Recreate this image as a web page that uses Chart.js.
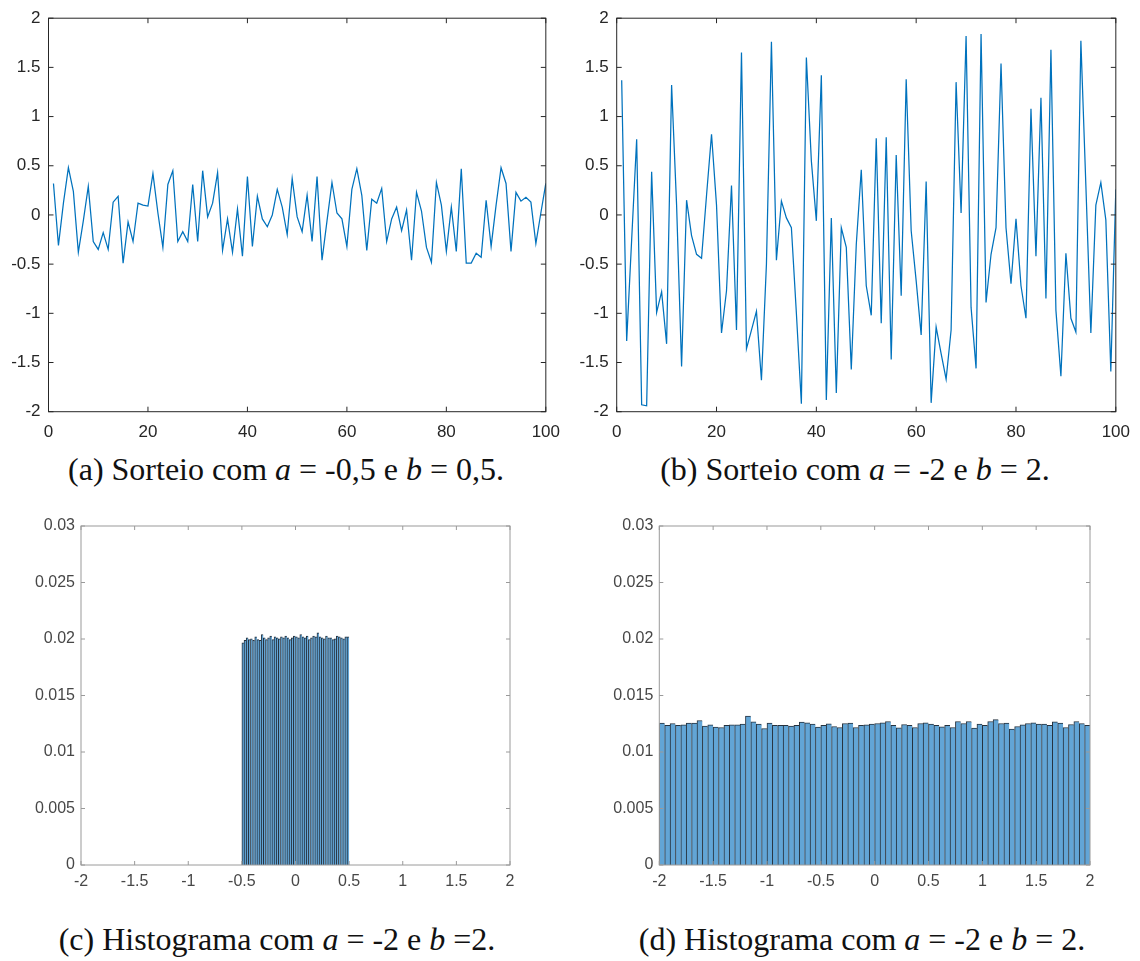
<!DOCTYPE html>
<html>
<head>
<meta charset="utf-8">
<script src="https://cdn.jsdelivr.net/npm/chart.js@4.4.1/dist/chart.umd.min.js"></script>
<style>
  html, body { margin:0; padding:0; background:#fff; }
  body { width:1140px; height:961px; position:relative; overflow:hidden; }
  .box { position:absolute; }
  .cap { position:absolute; white-space:nowrap; font-family:"Liberation Serif","Times New Roman",serif; color:#111; line-height:1; }
  .cap i { font-style:italic; }
</style>
</head>
<body>
<div class="box" style="left:0;top:0;width:570px;height:450px"><canvas id="cA" width="570" height="450"></canvas></div>
<div class="box" style="left:570px;top:0;width:570px;height:450px"><canvas id="cB" width="570" height="450"></canvas></div>
<div class="box" style="left:0;top:490px;width:570px;height:420px"><canvas id="cC" width="570" height="420"></canvas></div>
<div class="box" style="left:570px;top:490px;width:570px;height:420px"><canvas id="cD" width="570" height="420"></canvas></div>

<div class="cap" id="capA">(a) Sorteio com <i>a</i> = -0,5 e <i>b</i> = 0,5.</div>
<div class="cap" id="capB">(b) Sorteio com <i>a</i> = -2 e <i>b</i> = 2.</div>
<div class="cap" id="capC">(c) Histograma com <i>a</i> = -2 e <i>b</i> =2.</div>
<div class="cap" id="capD">(d) Histograma com <i>a</i> = -2 e <i>b</i> = 2.</div>

<script>
// ---------------- DATA ----------------
const seriesA = [0.32,-0.31,0.12,0.48,0.24,-0.38,-0.06,0.29,-0.27,-0.35,
  -0.18,-0.35,0.13,0.19,-0.49,-0.07,-0.27,0.12,0.10,0.09,
  0.42,0.02,-0.33,0.31,0.45,-0.27,-0.17,-0.27,0.31,-0.27,
  0.45,-0.02,0.12,0.43,-0.36,-0.04,-0.38,0.06,-0.42,0.39,
  -0.32,0.19,-0.04,-0.12,0.00,0.26,0.08,-0.20,0.37,-0.02,
  -0.17,0.20,-0.27,0.39,-0.46,-0.06,0.33,0.02,-0.04,-0.32,
  0.26,0.47,0.20,-0.36,0.16,0.12,0.27,-0.27,-0.04,0.08,
  -0.16,0.05,-0.46,0.23,0.04,-0.33,-0.48,0.33,0.10,-0.37,
  0.08,-0.37,0.47,-0.49,-0.49,-0.39,-0.43,0.15,-0.32,0.10,
  0.48,0.32,-0.37,0.23,0.14,0.18,0.13,-0.29,0.02,0.32];

const seriesB = [1.37,-1.28,-0.25,0.77,-1.93,-1.94,0.44,-0.99,-0.78,-1.31,
  1.32,0.10,-1.54,0.15,-0.21,-0.40,-0.44,0.20,0.82,0.10,
  -1.20,-0.77,0.30,-1.17,1.65,-1.36,-1.17,-0.98,-1.68,-0.50,
  1.76,-0.46,0.14,-0.03,-0.13,-1.00,-1.92,1.60,0.55,-0.06,
  1.42,-1.88,-0.03,-1.81,-0.13,-0.33,-1.57,-0.30,0.46,-0.72,
  -1.02,0.78,-1.10,0.79,-1.47,0.61,-0.82,1.38,-0.16,-0.67,
  -1.22,0.34,-1.91,-1.14,-1.41,-1.67,-1.17,1.35,0.02,1.82,
  -0.94,-1.56,1.84,-0.89,-0.40,-0.13,1.54,-0.13,-0.70,-0.04,
  -0.72,-1.05,1.08,-0.42,1.19,-0.85,1.68,-0.97,-1.64,-0.39,
  -1.05,-1.19,1.77,0.30,-1.20,0.10,0.33,-0.05,-1.59,0.26];

// histogram (c): 50 bins on [-0.5, 0.5]
const histC_range = [-0.5, 0.5];
const histC = [0.01966,0.01989,0.02010,0.01995,0.02001,0.01989,0.02019,0.01995,0.01989,0.02040,
  0.02010,0.01995,0.02010,0.02025,0.01995,0.02019,0.02010,0.02001,0.02019,0.02010,
  0.02025,0.02010,0.01995,0.02010,0.02025,0.02019,0.02010,0.02040,0.02019,0.02010,
  0.02025,0.01995,0.02010,0.02025,0.02019,0.02054,0.02019,0.02010,0.02001,0.02025,
  0.02010,0.02010,0.01995,0.02001,0.02025,0.02019,0.02010,0.02001,0.02019,0.02019];

// histogram (d): 80 bins on [-2, 2]
const histD_range = [-2, 2];
const histD = [0.01255,0.01235,0.01252,0.01235,0.01240,0.01255,0.01255,0.01279,0.01229,0.01240,
  0.01220,0.01217,0.01235,0.01240,0.01240,0.01246,0.01317,0.01267,0.01246,0.01208,
  0.01255,0.01237,0.01237,0.01237,0.01229,0.01237,0.01264,0.01258,0.01246,0.01220,
  0.01237,0.01249,0.01226,0.01217,0.01252,0.01255,0.01217,0.01237,0.01240,0.01246,
  0.01252,0.01258,0.01270,0.01237,0.01214,0.01243,0.01235,0.01217,0.01252,0.01258,
  0.01246,0.01237,0.01223,0.01235,0.01217,0.01270,0.01252,0.01270,0.01211,0.01246,
  0.01237,0.01270,0.01287,0.01252,0.01255,0.01202,0.01226,0.01240,0.01252,0.01258,
  0.01246,0.01246,0.01237,0.01267,0.01255,0.01217,0.01243,0.01270,0.01252,0.01235];

// tick definitions
const lineXTicks = [0, 20, 40, 60, 80, 100];
const lineYTicks = [-2, -1.5, -1, -0.5, 0, 0.5, 1, 1.5, 2];
const histXTicks = [-2, -1.5, -1, -0.5, 0, 0.5, 1, 1.5, 2];
const histYTicks = [0, 0.005, 0.01, 0.015, 0.02, 0.025, 0.03];

// ---------------- HELPERS ----------------
const fmt = v => String(+(+v).toFixed(4));

const framePlugin = {
  id: 'frame',
  afterDatasetsDraw(chart, args, o) {
    const { ctx, chartArea: a, scales: { x, y } } = chart;
    ctx.save();
    ctx.strokeStyle = o.color;
    ctx.lineWidth = o.width;
    ctx.beginPath();
    x.ticks.forEach(t => {
      const p = x.getPixelForValue(t.value);
      ctx.moveTo(p, a.bottom); ctx.lineTo(p, a.bottom - o.len);
      ctx.moveTo(p, a.top); ctx.lineTo(p, a.top + o.len);
    });
    y.ticks.forEach(t => {
      const p = y.getPixelForValue(t.value);
      ctx.moveTo(a.left, p); ctx.lineTo(a.left + o.len, p);
      ctx.moveTo(a.right, p); ctx.lineTo(a.right - o.len, p);
    });
    ctx.stroke();
    ctx.strokeRect(a.left, a.top, a.right - a.left, a.bottom - a.top);
    ctx.restore();
  }
};

function axisX(ticksArr, min, max, font, color, pad, h) {
  return {
    type: 'linear', min, max, offset: false,
    grid: { display: false, drawTicks: false, offset: false },
    border: { display: false },
    afterBuildTicks: s => { s.ticks = ticksArr.map(v => ({ value: v })); },
    afterFit: s => { s.height = h; },
    ticks: { autoSkip: false, maxRotation: 0, padding: pad, color, font, callback: v => fmt(v).replace('-', '-') }
  };
}
function axisY(ticksArr, min, max, font, color, pad, w) {
  return {
    type: 'linear', min, max,
    grid: { display: false, drawTicks: false },
    border: { display: false },
    afterBuildTicks: s => { s.ticks = ticksArr.map(v => ({ value: v })); },
    afterFit: s => { s.width = w; },
    ticks: { autoSkip: false, padding: pad, color, font, callback: v => fmt(v) }
  };
}

const topFont = { family: '"Liberation Sans", Arial, Helvetica, sans-serif', size: 17 };
const botFont = { family: '"Liberation Sans", Arial, Helvetica, sans-serif', size: 16 };
const topColor = '#262626';
const botColor = '#474747';

function lineChart(id, values, yW, padR) {
  const pts = values.map((v, i) => ({ x: i + 1, y: v }));
  return new Chart(document.getElementById(id), {
    type: 'line',
    data: { datasets: [{ data: pts, borderColor: '#0072BD', borderWidth: 1.25, pointRadius: 0, tension: 0, fill: false }] },
    options: {
      responsive: false, animation: false, devicePixelRatio: 1,
      layout: { padding: { left: 0, top: 15, right: padR, bottom: 0 } },
      plugins: { legend: { display: false }, tooltip: { enabled: false },
        frame: { color: '#262626', width: 1, len: 5 } },
      scales: {
        x: axisX(lineXTicks, 0, 100, topFont, topColor, 10, 450 - 411.7),
        y: axisY(lineYTicks, -2, 2, topFont, topColor, 8, yW)
      }
    },
    plugins: [framePlugin]
  });
}

function histChart(id, values, range, yW, padR, padT) {
  const w = (range[1] - range[0]) / values.length;
  const pts = values.map((v, i) => ({ x: range[0] + w * (i + 0.5), y: v }));
  return new Chart(document.getElementById(id), {
    type: 'bar',
    data: { datasets: [{ data: pts, backgroundColor: '#62a5d6', borderColor: '#26323e',
      borderWidth: { top: 1, left: 1, right: 0, bottom: 0 }, borderSkipped: false,
      barPercentage: 1, categoryPercentage: 1 }] },
    options: {
      responsive: false, animation: false, devicePixelRatio: 1,
      layout: { padding: { left: 0, top: padT, right: padR, bottom: 0 } },
      plugins: { legend: { display: false }, tooltip: { enabled: false },
        frame: { color: '#9a9a9a', width: 1, len: 4 } },
      scales: {
        x: axisX(histXTicks, -2, 2, botFont, botColor, 7, 420 - 375),
        y: axisY(histYTicks, 0, 0.03, botFont, botColor, 6, yW)
      }
    },
    plugins: [framePlugin]
  });
}

lineChart('cA', seriesA, 48.5, 570 - 549.5);
lineChart('cB', seriesB, 46.7, 570 - 547.5);
histChart('cC', histC, histC_range, 81, 570 - 510, 36);
histChart('cD', histD, histD_range, 89.3, 570 - 520, 36);

// ---------------- CAPTIONS ----------------
function placeCaps() {
  const a = document.getElementById('capA');
  a.style.fontSize = '30px';
  const wA = a.getBoundingClientRect().width;
  const size = 30 * 436 / wA;
  const base = 0.891 * size + (size - 1.107 * size) / 2;
  const caps = [['capA', 286, 480], ['capB', 855, 480], ['capC', 277, 950], ['capD', 862, 950]];
  caps.forEach(([id, cx, bl]) => {
    const el = document.getElementById(id);
    el.style.fontSize = size + 'px';
    const w = el.getBoundingClientRect().width;
    el.style.left = (cx - w / 2) + 'px';
    el.style.top = (bl - base) + 'px';
  });
}
placeCaps();
</script>
</body>
</html>
